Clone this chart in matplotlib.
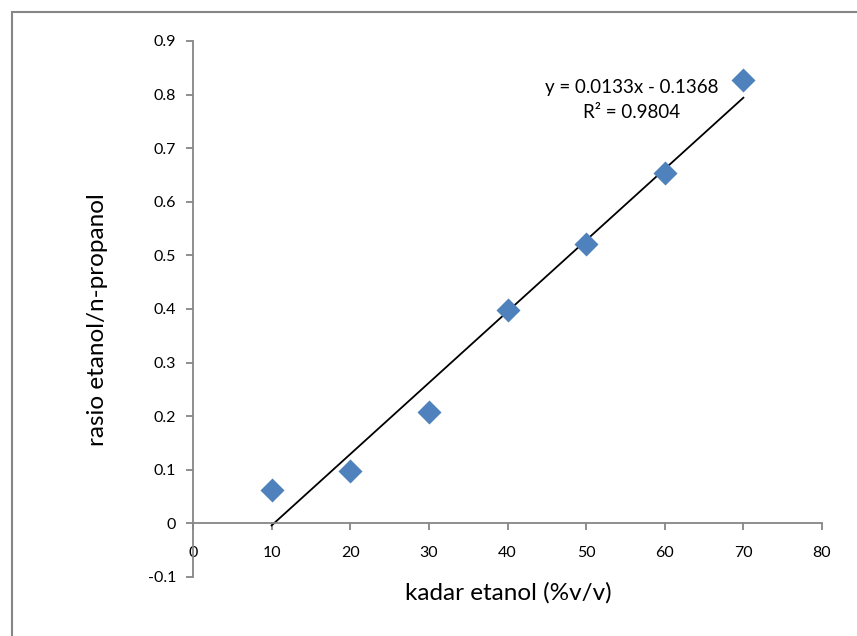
import matplotlib.pyplot as plt
from matplotlib.patches import Rectangle
import numpy as np

# data
kadar = [10, 20, 30, 40, 50, 60, 70]
rasio = [0.062, 0.097, 0.207, 0.399, 0.522, 0.653, 0.828]
slope = 0.0133
intercept = -0.1368
r2 = 0.9804
xticks = [0, 10, 20, 30, 40, 50, 60, 70, 80]
yticks = [-0.1, 0, 0.1, 0.2, 0.3, 0.4, 0.5, 0.6, 0.7, 0.8, 0.9]

plt.rcParams['font.family'] = ['Lato', 'DejaVu Sans']
W, H = 857, 636
fig = plt.figure(figsize=(W/100, H/100), dpi=100)
grey = '#868686'

# outer chart border (runs off right/bottom edge)
fig.patches.append(Rectangle((12/W, -0.1), 1.2, 1.1 - 12/H, transform=fig.transFigure,
                             fill=False, edgecolor=grey, lw=1.5))

ax = fig.add_axes([193/W, 1 - 577/H, (822-193)/W, (577-41)/H])
ax.set_xlim(0, 80)
ax.set_ylim(-0.1, 0.9)

ax.scatter(kadar, rasio, marker='D', s=150, color='#4F81BD', zorder=3, linewidths=0)
xl = np.array([kadar[0], kadar[-1]])
ax.plot(xl, slope*xl + intercept, color='black', lw=1.3, zorder=2)

ax.spines['top'].set_visible(False)
ax.spines['right'].set_visible(False)
ax.spines['bottom'].set_position(('data', 0))
for s in ('left', 'bottom'):
    ax.spines[s].set_color(grey)
    ax.spines[s].set_linewidth(1.3)

ax.set_xticks(xticks)
ax.set_yticks(yticks)
ax.set_xticklabels([str(v) for v in xticks])
ax.set_yticklabels(['-0.1', '0', '0.1', '0.2', '0.3', '0.4', '0.5', '0.6', '0.7', '0.8', '0.9'])
ax.tick_params(axis='both', color=grey, length=5, width=1.3, labelsize=11.5, direction='out')
ax.tick_params(axis='x', pad=11)
ax.tick_params(axis='y', pad=7)

ax.text(632/W, 1 - 87/H, 'y = 0.0133x - 0.1368', transform=fig.transFigure,
        ha='center', va='center', fontsize=13.5)
ax.text(632/W, 1 - 112/H, 'R² = %.4f' % r2, transform=fig.transFigure,
        ha='center', va='center', fontsize=13.5)

fig.text(508/W, 1 - 593/H, 'kadar etanol (%v/v)', ha='center', va='center', fontsize=17.5)
fig.text(97/W, 1 - 320/H, 'rasio etanol/n-propanol', ha='center', va='center',
         rotation=90, fontsize=17.5)

fig.savefig('out.png', dpi=100)
